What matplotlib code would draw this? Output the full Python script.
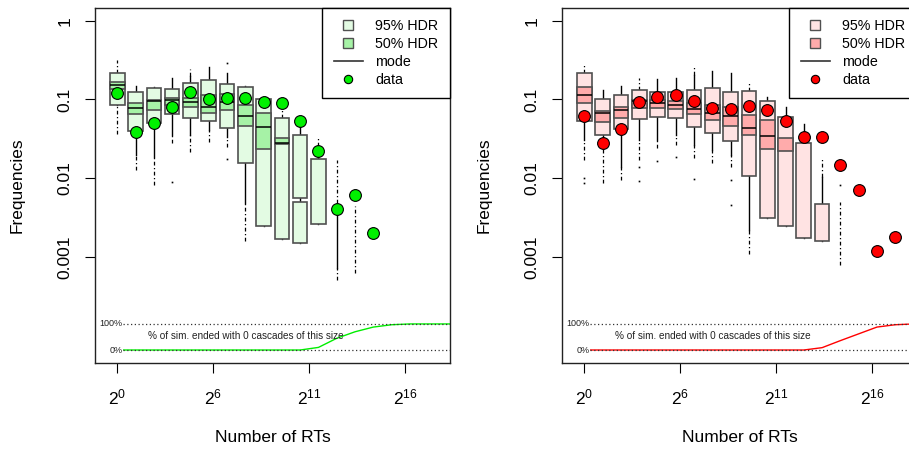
import numpy as np
import matplotlib.pyplot as plt
from matplotlib.lines import Line2D

plt.rcParams['font.family'] = ['Liberation Sans', 'DejaVu Sans']
plt.rcParams['mathtext.fontset'] = 'custom'
plt.rcParams['mathtext.rm'] = 'Liberation Sans'
plt.rcParams['mathtext.it'] = 'Liberation Sans:italic'
plt.rcParams['mathtext.default'] = 'regular'

# ---------------- left panel (green) ----------------
green_data = [0.120, 0.039, 0.051, 0.081, 0.124, 0.100, 0.104, 0.104,
              0.094, 0.091, 0.053, 0.022, 0.0041, 0.0061, 0.0020]
green_hdr95 = [[(0.085, 0.217)], [(0.0395, 0.124)], [(0.050, 0.139)],
               [(0.065, 0.135)], [(0.058, 0.160)], [(0.053, 0.177)],
               [(0.044, 0.156)], [(0.0156, 0.145)], [(0.0025, 0.100)],
               [(0.0017, 0.059)], [(0.0056, 0.035), (0.0015, 0.0050)],
               [(0.0026, 0.0174)]]
green_hdr50 = [(0.134, 0.165), (0.065, 0.089), (0.0735, 0.0985),
               (0.085, 0.1035), (0.0797, 0.1035), (0.0668, 0.114),
               (0.0735, 0.117), (0.046, 0.085), (0.0233, 0.0667),
               (0.027, 0.0327), None, None]
green_mode = [0.153, 0.078, 0.0957, 0.0985, 0.093, 0.081, 0.0917,
              0.0622, 0.0451, 0.028, None, None]
green_whisk = [(0.085, 0.217), (0.020, 0.147), (0.0186, 0.145), (0.035, 0.186),
               (0.035, 0.20), (0.041, 0.26), (0.0335, 0.22), (0.0048, 0.15),
               (0.0025, 0.100), (0.0017, 0.059), (0.0015, 0.046),
               (0.0026, 0.019), (0.00073, 0.0036), None, None]
green_tail = [(0.037, 0.32), (0.0127, None), (0.0082, None), (0.028, None),
              (0.0217, 0.243), (0.029, None), (0.025, None), (0.0016, None),
              None, (None, 0.080), None, (None, 0.032), (0.00051, 0.0171),
              (0.00063, 0.0044), None]
green_stray = [[], [], [], [0.009], [], [], [0.29, 0.0174], [], [], [], [],
               [], [], [], []]
green_zero = [0, 0, 0, 0, 0, 0, 0, 0, 0, 0, 0, 0.10, 0.45, 0.70, 0.88,
              0.97, 1.0, 1.0, 1.0]

# ---------------- right panel (red) ----------------
red_data = [0.0617, 0.0283, 0.0418, 0.0937, 0.1066, 0.114, 0.0957, 0.0772,
            0.0768, 0.0826, 0.0735, 0.0533, 0.0337, 0.0337, 0.0147, 0.0071,
            0.0012, 0.0018]
red_hdr95 = [[(0.0538, 0.217)], [(0.0354, 0.1005)], [(0.0428, 0.114)],
             [(0.0565, 0.132)], [(0.0604, 0.1256)], [(0.0577, 0.124)],
             [(0.0451, 0.132)], [(0.0372, 0.139)], [(0.030, 0.124)],
             [(0.0107, 0.129)], [(0.0031, 0.0947)], [(0.00248, 0.0604)],
             [(0.00173, 0.0278)], [(0.0016, 0.0047)]]
red_hdr50 = [(0.091, 0.1427), (0.0522, 0.072), (0.0587, 0.081),
             (0.0772, 0.0985), (0.0772, 0.0985), (0.075, 0.0957),
             (0.0653, 0.0894), (0.0549, 0.085), (0.046, 0.0797),
             (0.0354, 0.0635), (0.0233, 0.0549), (0.0222, 0.0321), None, None]
red_mode = [0.114, 0.068, 0.0735, 0.097, 0.0894, 0.085, 0.0757, 0.068,
            0.0617, 0.043, 0.0344, None, None, None]
red_whisk = [(0.0306, 0.217), (0.025, 0.132), (0.0141, 0.148), (0.0306, 0.132),
             (0.0306, 0.182), (0.0354, 0.187), (0.0264, 0.204), (0.0229, 0.23),
             (0.0197, 0.214), (0.0022, 0.129), (0.0031, 0.109), (0.00248, 0.080),
             (0.00173, 0.0489), (0.0016, 0.0103), None, None, None, None]
red_tail = [(0.0171, 0.293), (0.0087, None), (0.0095, None), (0.017, 0.19),
            (0.0242, None), (0.0265, None), (0.018, 0.266), (0.0156, None),
            (0.0141, None), (0.0011, 0.172), None, None, None, (None, 0.0179),
            (0.00079, 0.0050), None, None, None]
red_stray = [[0.010, 0.0086], [], [], [0.0139, 0.0092], [0.0165], [0.0186],
             [0.0098], [], [0.0095, 0.0046], [], [], [], [], [], [0.0083],
             [], [], []]
red_zero = [0, 0, 0, 0, 0, 0, 0, 0, 0, 0, 0, 0, 0, 0.09, 0.36, 0.62, 0.88,
            0.97, 1.0]

ytick_vals = [1, 0.1, 0.01, 0.001]
ytick_text = ['1', '0.1', '0.01', '0.001']
xtick_pos = [0, 5.25, 10.5, 15.75]
xtick_text = ['$2^{0}$', '$2^{6}$', '$2^{11}$', '$2^{16}$']

XLIM = (-1.22, 18.19)
YLIM = (10 ** -4.344, 10 ** 0.161)
BOX_W = 0.8
EDGE = '#505050'
TAIL_LS = (0, (3, 2, 1, 2))


def draw_panel(ax, data, hdr95, hdr50, mode, whisk, tail, stray, zero,
               light, mid, point, line_col):
    n = len(data)
    # whiskers and outlier tails
    for i in range(n):
        w = whisk[i]
        t = tail[i]
        if w is not None:
            ax.plot([i, i], w, color='black', lw=1, zorder=1)
            if t is not None and t[0] is not None:
                ax.plot([i, i], [t[0], w[0]], color='black', lw=0.9, ls=TAIL_LS, zorder=1)
            if t is not None and t[1] is not None:
                ax.plot([i, i], [w[1], t[1]], color='black', lw=0.9, ls=TAIL_LS, zorder=1)
        elif t is not None:
            ax.plot([i, i], t, color='black', lw=0.9, ls=TAIL_LS, zorder=1)
        for s in stray[i]:
            ax.plot(i, s, marker='s', ms=1.2, color='black', mew=0, zorder=1)

    # 95% and 50% HDR boxes
    for i, regions in enumerate(hdr95):
        for lo, hi in regions:
            ax.bar(i, hi - lo, bottom=lo, width=BOX_W, color=light,
                   edgecolor=EDGE, linewidth=1.2, zorder=2)
    for i, r in enumerate(hdr50):
        if r is not None:
            ax.bar(i, r[1] - r[0], bottom=r[0], width=BOX_W, color=mid,
                   edgecolor=EDGE, linewidth=1.2, zorder=3)
    for i, m in enumerate(mode):
        if m is not None:
            ax.hlines(m, i - BOX_W / 2, i + BOX_W / 2, color='black', lw=1.1, zorder=4)

    ax.scatter(np.arange(n), data, s=72, c=point, edgecolors='black',
               linewidths=0.8, zorder=5)

    # strip at the bottom: share of simulations with no cascade of that size
    tr = ax.get_xaxis_transform()
    y0, y1 = 0.0366, 0.110
    zx = np.append(np.arange(len(zero)), XLIM[1])
    zy = np.append(zero, zero[-1])
    ax.plot(zx, y0 + zy * (y1 - y0), color=line_col, lw=1, transform=tr, zorder=2)
    for yy in (y0, y1):
        ax.plot([0.3, XLIM[1]], [yy, yy], color='#333333', lw=0.9, ls=(0, (1, 2)),
                transform=tr, zorder=3)
    for yy, lab in ((y1, '100%'), (y0, '0%')):
        ax.text(0.3, yy, lab, ha='right', va='center', fontsize=6.5,
                transform=tr, color='#222222', zorder=4,
                bbox=dict(fc='white', ec='none', pad=0.3))
    ax.text(7.0, 0.076, '% of sim. ended with 0 cascades of this size',
            ha='center', va='center', fontsize=7.2, color='#222222', transform=tr)

    ax.set_yscale('log')
    ax.set_xlim(*XLIM)
    ax.set_ylim(*YLIM)
    ax.set_yticks(ytick_vals)
    ax.set_yticklabels(ytick_text)
    ax.yaxis.set_minor_locator(plt.NullLocator())
    ax.set_xticks(xtick_pos)
    ax.set_xticklabels(xtick_text)
    ax.tick_params(axis='both', length=7.2, width=0.8, direction='out',
                   labelsize=12.5, pad=9)
    ax.tick_params(axis='x', pad=10.5)
    ax.tick_params(axis='y', labelrotation=90)
    for lab in ax.get_yticklabels():
        lab.set_va('center')
    for sp in ax.spines.values():
        sp.set_linewidth(1.0)
        sp.set_color('#222222')

    ax.set_xlabel('Number of RTs', fontsize=12.5)
    ax.set_ylabel('Frequencies', fontsize=12.5)
    ax.xaxis.set_label_coords(0.5, -0.19)
    ax.yaxis.set_label_coords(-0.197, 0.5)

    handles = [
        Line2D([], [], ls='none', marker='s', ms=7.5, mfc=light, mec=EDGE, mew=1),
        Line2D([], [], ls='none', marker='s', ms=7.5, mfc=mid, mec=EDGE, mew=1),
        Line2D([], [], color='#333333', lw=1.2),
        Line2D([], [], ls='none', marker='o', ms=6, mfc=point, mec='black', mew=0.8),
    ]
    leg = ax.legend(handles, ['95% HDR', '50% HDR', 'mode', 'data'],
                    loc='upper right', bbox_to_anchor=(1, 1), borderaxespad=0,
                    fontsize=10.3, fancybox=False, edgecolor='black',
                    framealpha=1, handlelength=2.0,
                    handletextpad=0.9, borderpad=0.8, labelspacing=0.26)
    leg.get_frame().set_linewidth(1.0)
    leg.set_zorder(10)


fig = plt.figure(figsize=(9.09, 4.55), dpi=100)
ax1 = fig.add_axes([0.1045, 0.2022, 0.3905, 0.7802])
ax2 = fig.add_axes([0.6183, 0.2022, 0.3905, 0.7802])

draw_panel(ax1, green_data, green_hdr95, green_hdr50, green_mode, green_whisk,
           green_tail, green_stray, green_zero,
           '#e3fbe3', '#a6f2a6', '#00f000', '#00ee00')
draw_panel(ax2, red_data, red_hdr95, red_hdr50, red_mode, red_whisk,
           red_tail, red_stray, red_zero,
           '#ffe3e3', '#ffabab', '#ff0000', '#ff0000')

fig.savefig('out.png', dpi=100)
